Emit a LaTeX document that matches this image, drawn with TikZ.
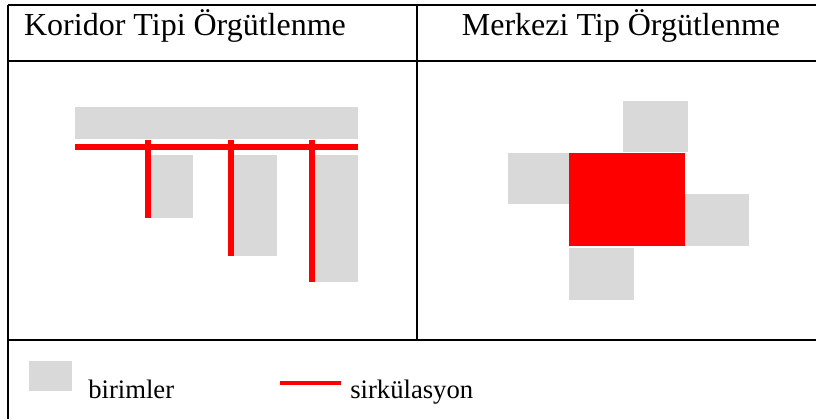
\documentclass[tikz,border=0pt]{standalone}
\usepackage{fontspec}
\setmainfont{Liberation Serif}
\definecolor{unitgray}{HTML}{D9D9D9}
\definecolor{circred}{HTML}{FF0000}
\tikzset{
  grid line/.style={line width=1.6pt, black},
  unit/.style={fill=unitgray, draw=none},
  circ/.style={circred, line width=3.8pt},
  head/.style={font=\fontsize{24}{28}\selectfont, anchor=base, inner sep=0pt},
  legend text/.style={font=\fontsize{20}{24}\selectfont, anchor=base west, inner sep=0pt}
}
\begin{document}
\begin{tikzpicture}[x=0.75pt, y=-0.75pt]
\useasboundingbox (0,0) rectangle (816,419);
% table lines
\draw[grid line] (8,5) -- (816,5);
\draw[grid line] (8,61) -- (816,61);
\draw[grid line] (8,340) -- (816,340);
\draw[grid line] (8,5) -- (8,419);
\draw[grid line] (417,5) -- (417,340);
% headers
\node[head] (h1) at (185,35) {Koridor Tipi Örgütlenme};
\node[head] (h2) at (621,35) {Merkezi Tip Örgütlenme};
% corridor type
\fill[unit] (75,107) rectangle (358,139);
\fill[unit] (151,155) rectangle (193,218);
\fill[unit] (233,155) rectangle (277,256);
\fill[unit] (314,155) rectangle (358,282);
\draw[circ] (75,147) -- (358,147);
\draw[circ] (148,140) -- (148,218);
\draw[circ] (231,140) -- (231,256);
\draw[circ] (312,140) -- (312,282);
% central type
\fill[unit] (623,101) rectangle (688,152);
\fill[unit] (508,153) rectangle (570,204);
\fill[unit] (685,194) rectangle (749,246);
\fill[unit] (569,248) rectangle (634,300);
\fill[circred] (569,153) rectangle (685,246);
% legend
\fill[unit] (29,361) rectangle (72,391);
\node[legend text] (l1) at (88,398) {birimler};
\draw[circred, line width=3pt] (280,383) -- (341,383);
\node[legend text] (l2) at (350,398) {sirkülasyon};
\end{tikzpicture}
\end{document}
